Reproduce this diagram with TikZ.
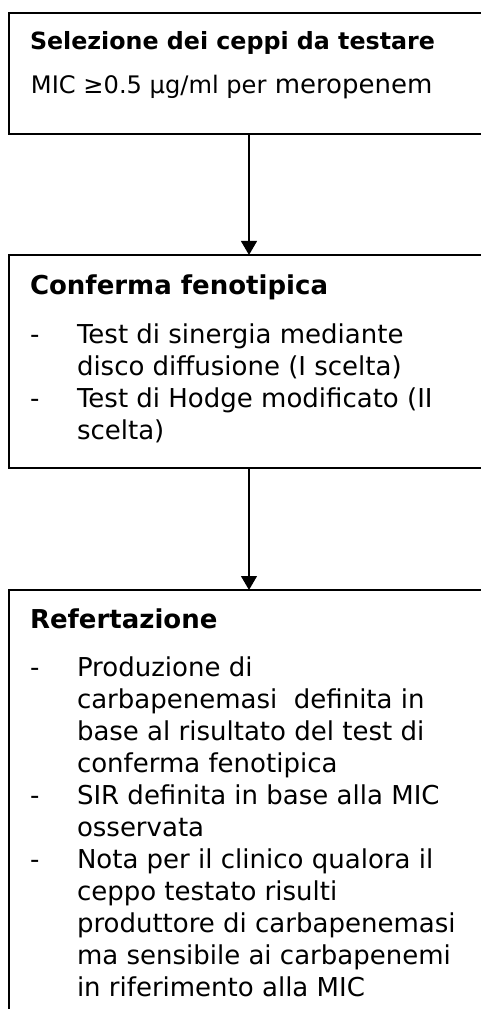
\documentclass[tikz,border=0pt]{standalone}
\usepackage{fontspec}
\setmainfont{DejaVu Sans}
\usetikzlibrary{arrows.meta}
\tikzset{
  box/.style={draw=black, line width=1.1pt, rectangle, inner sep=0pt, outer sep=0pt,
              minimum width=360pt, anchor=north west},
  txt/.style={anchor=base west, inner sep=0pt, outer sep=0pt,
              font=\fontsize{19.5pt}{24pt}\selectfont},
  ttl/.style={txt, font=\fontsize{19.5pt}{24pt}\selectfont\bfseries},
  dsh/.style={txt},
  arr/.style={draw=black, line width=1.5pt, -{Triangle[length=10.5pt,width=11.8pt]}}
}
\begin{document}
\begin{tikzpicture}[x=0.75pt,y=-0.75pt]
\useasboundingbox (0,0) rectangle (481,1009);
\clip (0,0) rectangle (481,1009);
% boxes
\node[box, minimum height=90.75pt] (b1) at (9,13) {};
\node[box, minimum height=159.75pt] (b2) at (9,255) {};
\node[box, minimum height=337.5pt] (b3) at (9,590) {};
% connectors
\draw[arr] (b1.south) -- (b2.north);
\draw[arr] (b2.south) -- (b3.north);
% box 1 text
\node[ttl, font=\fontsize{17.8pt}{22pt}\selectfont\bfseries] (t1) at (30,50) {Selezione dei ceppi da testare};
\node[txt] (t1b) at (31,94) {{\fontsize{18.1pt}{22pt}\selectfont MIC ≥0.5 µg/ml per} meropenem};
% box 2 text
\node[ttl] (t2) at (30,294) {Conferma fenotipica};
\node[dsh] (d21) at (30,343) {-};
\node[txt] (l21) at (77,343) {Test di sinergia mediante};
\node[txt] (l22) at (77,375) {disco diffusione (I scelta)};
\node[dsh] (d22) at (30,407) {-};
\node[txt] (l23) at (77,407) {Test di Hodge modificato (II};
\node[txt] (l24) at (77,439) {scelta)};
% box 3 text
\node[ttl] (t3) at (30,628) {Refertazione};
\node[dsh] (d31) at (30,676) {-};
\node[txt] (l31) at (77,676) {Produzione di};
\node[txt] (l32) at (77,708) {carbapenemasi\ \ definita in};
\node[txt] (l33) at (77,740) {base al risultato del test di};
\node[txt] (l34) at (77,772) {conferma fenotipica};
\node[dsh] (d32) at (30,804) {-};
\node[txt] (l35) at (77,804) {SIR definita in base alla MIC};
\node[txt] (l36) at (77,836) {osservata};
\node[dsh] (d33) at (30,868) {-};
\node[txt] (l37) at (77,868) {Nota per il clinico qualora il};
\node[txt] (l38) at (77,900) {ceppo testato risulti};
\node[txt] (l39) at (77,932) {produttore di carbapenemasi};
\node[txt] (l310) at (77,964) {ma sensibile ai carbapenemi};
\node[txt] (l311) at (77,996) {in riferimento alla MIC};
\end{tikzpicture}
\end{document}
